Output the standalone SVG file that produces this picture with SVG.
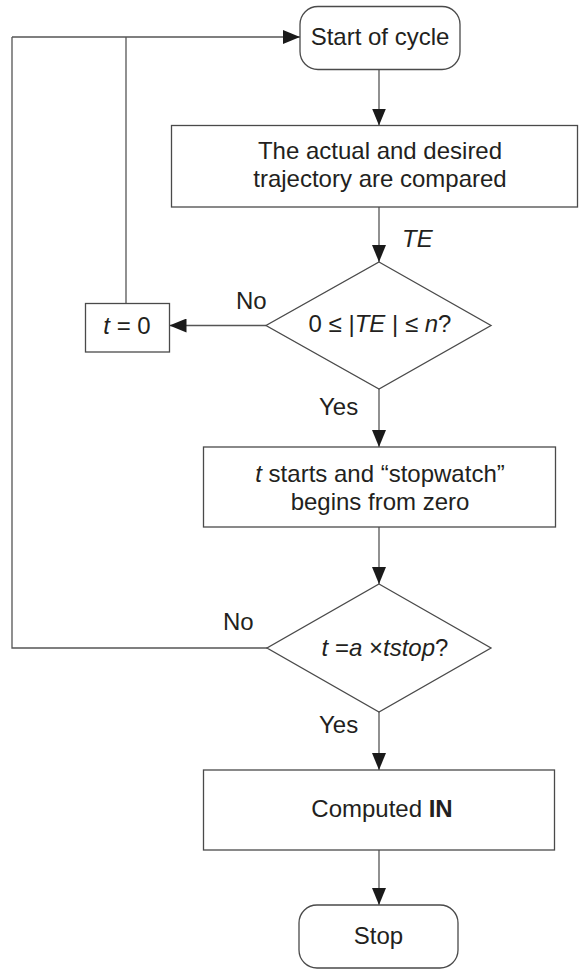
<svg xmlns="http://www.w3.org/2000/svg" width="579" height="969" viewBox="0 0 579 969">
  <style>
    .shape { fill: #ffffff; stroke: #4a4a4a; stroke-width: 1.3; }
    .line { fill: none; stroke: #555555; stroke-width: 1.3; }
    text { font-family: "Liberation Sans", Arial, Helvetica, sans-serif; font-size: 24px; fill: #231f20; }
    .c { text-anchor: middle; }
    .i { font-style: italic; }
    .b { font-weight: bold; }
  </style>
  <defs>
    <marker id="arrow" markerUnits="userSpaceOnUse" viewBox="0 0 17 14" refX="17" refY="7" markerWidth="17" markerHeight="14" orient="auto">
      <path d="M0,0 L17,7 L0,14 z" fill="#1a1a1a"/>
    </marker>
  </defs>

  <g id="connectors">
    <line class="line" x1="379" y1="69.5" x2="379" y2="125.5" marker-end="url(#arrow)"/>
    <line class="line" x1="379" y1="207" x2="379" y2="262" marker-end="url(#arrow)"/>
    <line class="line" x1="266" y1="325.5" x2="169.5" y2="325.5" marker-end="url(#arrow)"/>
    <polyline class="line" points="126,303.5 126,37"/>
    <line class="line" x1="12" y1="37" x2="300" y2="37" marker-end="url(#arrow)"/>
    <line class="line" x1="379" y1="389" x2="379" y2="447" marker-end="url(#arrow)"/>
    <line class="line" x1="379" y1="527" x2="379" y2="584" marker-end="url(#arrow)"/>
    <polyline class="line" points="267,648 12,648 12,37"/>
    <line class="line" x1="379" y1="712" x2="379" y2="770" marker-end="url(#arrow)"/>
    <line class="line" x1="379" y1="850" x2="379" y2="905" marker-end="url(#arrow)"/>
    <text x="402" y="247" class="i">TE</text>
    <text x="236" y="309">No</text>
    <text x="319" y="415">Yes</text>
    <text x="223" y="630">No</text>
    <text x="319" y="733">Yes</text>
  </g>

  <g id="start">
    <rect class="shape" x="300" y="6.5" width="160" height="63" rx="18" ry="18"/>
    <text x="380" y="45" class="c">Start of cycle</text>
  </g>

  <g id="compare">
    <rect class="shape" x="171.5" y="125.5" width="406" height="81.5"/>
    <text x="380" y="158.5" class="c">The actual and desired</text>
    <text x="380" y="186.5" class="c">trajectory are compared</text>
  </g>

  <g id="decision1">
    <polygon class="shape" points="379,262 491,325.5 379,389 266,325.5"/>
    <text x="380" y="332" class="c">0 ≤ |<tspan class="i">TE</tspan> | ≤ <tspan class="i">n</tspan>?</text>
  </g>

  <g id="reset">
    <rect class="shape" x="85.5" y="303.5" width="84" height="48.5"/>
    <text x="127" y="334" class="c"><tspan class="i">t</tspan> = 0</text>
  </g>

  <g id="stopwatch">
    <rect class="shape" x="203.5" y="447" width="352" height="80"/>
    <text x="380" y="482" class="c"><tspan class="i">t</tspan> starts and “stopwatch”</text>
    <text x="380" y="510" class="c">begins from zero</text>
  </g>

  <g id="decision2">
    <polygon class="shape" points="379,584 491,648 379,712 267,648"/>
    <text x="385" y="656" class="c"><tspan class="i">t</tspan> =<tspan class="i">a</tspan> ×<tspan class="i">tstop</tspan>?</text>
  </g>

  <g id="compute">
    <rect class="shape" x="203.5" y="770" width="351" height="80"/>
    <text x="382" y="817" class="c">Computed <tspan class="b">IN</tspan></text>
  </g>

  <g id="stop">
    <rect class="shape" x="299" y="905" width="159" height="63" rx="18" ry="18"/>
    <text x="378.5" y="944" class="c">Stop</text>
  </g>
</svg>
